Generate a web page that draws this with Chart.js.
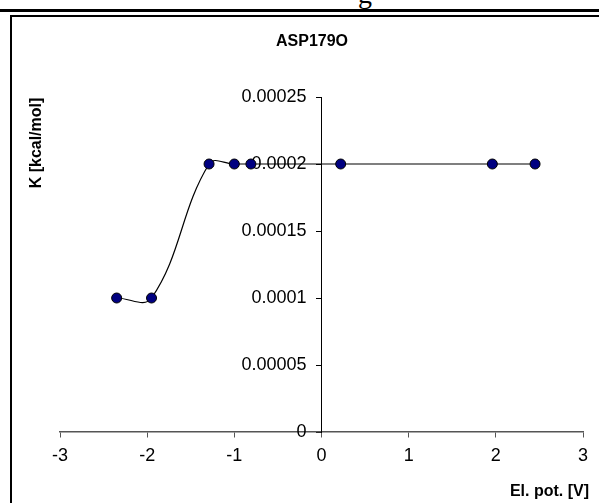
<!DOCTYPE html>
<html>
<head>
<meta charset="utf-8">
<script src="https://cdn.jsdelivr.net/npm/chart.js@4.4.1/dist/chart.umd.min.js"></script>
<style>
  html, body { margin: 0; padding: 0; background: #fff; overflow: hidden; }
  #wrap { position: relative; width: 599px; height: 503px; }
  #topline { position: absolute; left: 0; top: 9px; width: 599px; height: 3px; background: #000; }
  #frame { position: absolute; left: 10px; top: 15px; width: 620px; height: 520px;
           border-left: 2px solid #000; border-top: 2px solid #000; }
  #cut { position: absolute; left: 358px; top: -22px; font: 28px "Liberation Serif", serif; color: #000; }
  canvas { position: absolute; left: 0; top: 0; }
</style>
</head>
<body>
<div id="wrap">
  <div id="cut">g</div>
  <div id="topline"></div>
  <div id="frame"></div>
  <canvas id="kchart" width="599" height="503"></canvas>
</div>
<script>
const potential = [-2.35, -1.95, -1.29, -1.0, -0.81, 0.22, 1.96, 2.45];
const kValues = [0.0001, 0.0001, 0.0002, 0.0002, 0.0002, 0.0002, 0.0002, 0.0002];
const chart_title = 'ASP179O';
const x_title = 'El. pot. [V]';
const y_title = 'K [kcal/mol]';

const font_name = '"Liberation Sans", Arial, sans-serif';

// axis titles and chart title drawn at fixed spots like the excel chart
const labels_plugin = {
  id: 'labels_plugin',
  afterDraw(chart) {
    const c = chart.ctx;
    c.save();
    c.fillStyle = '#000';
    c.font = 'bold 16px ' + font_name;
    c.textAlign = 'center';
    c.textBaseline = 'middle';
    c.fillText(chart_title, 312, 42);
    c.textAlign = 'right';
    c.fillText(x_title, 589, 492);
    c.translate(37, 143);
    c.rotate(-Math.PI / 2);
    c.textAlign = 'center';
    c.fillText(y_title, 0, 0);
    c.restore();
  }
};

const ctx = document.getElementById('kchart').getContext('2d');
const chart = new Chart(ctx, {
  type: 'scatter',
  data: {
    datasets: [{
      data: potential.map((x, i) => ({x: x, y: kValues[i]})),
      showLine: true,
      tension: 0.4,
      borderColor: '#000',
      borderWidth: 1.2,
      pointRadius: 5,
      pointHoverRadius: 5,
      pointBackgroundColor: '#000080',
      pointBorderColor: '#000',
      pointBorderWidth: 1
    }]
  },
  options: {
    responsive: false,
    animation: false,
    layout: { padding: { left: 60, right: 16, top: 97, bottom: 71 } },
    plugins: {
      legend: { display: false },
      tooltip: { enabled: false }
    },
    scales: {
      x: {
        type: 'linear',
        position: { y: 0 },
        min: -3,
        max: 3,
        border: { display: true, color: '#555', width: 1.5 },
        grid: { display: true, drawOnChartArea: false, drawTicks: true, tickLength: 5, color: '#555' },
        ticks: { stepSize: 1, color: '#000', padding: 8, font: { size: 18, family: font_name } }
      },
      y: {
        type: 'linear',
        position: { x: 0 },
        min: 0,
        max: 0.00025,
        border: { display: true, color: '#000', width: 1 },
        grid: { display: true, drawOnChartArea: false, drawTicks: true, tickLength: 5, color: '#000' },
        ticks: {
          stepSize: 0.00005,
          color: '#000',
          font: { size: 18, family: font_name },
          // centred axis puts labels flush to the line, trailing spaces push them left
          callback: v => String(+v.toFixed(5)) + '   '
        }
      }
    }
  },
  plugins: [labels_plugin]
});
</script>
</body>
</html>
